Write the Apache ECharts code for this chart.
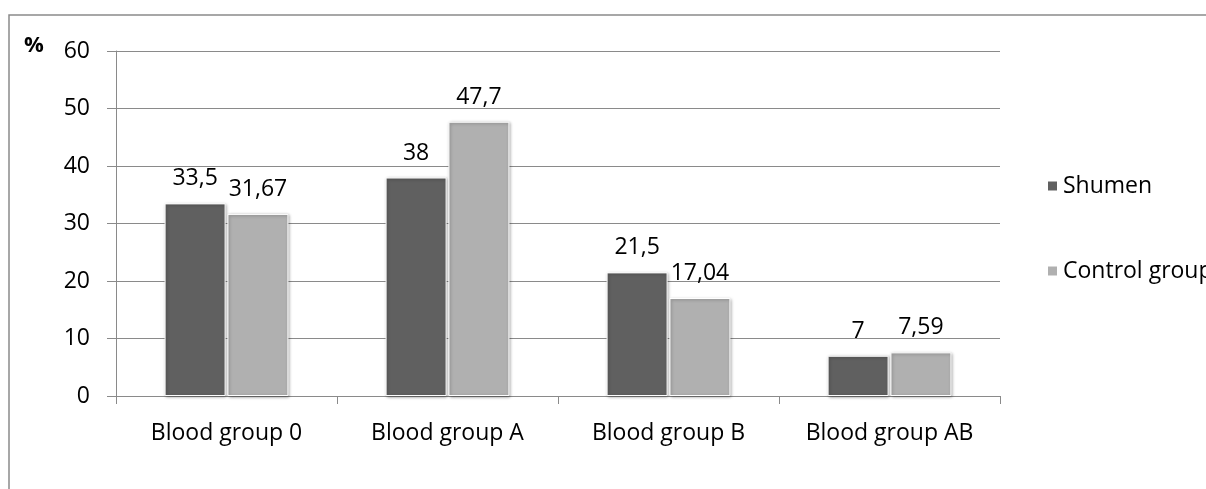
<!DOCTYPE html>
<html><head><meta charset="utf-8">
<script src="https://cdn.jsdelivr.net/npm/echarts@6/dist/echarts.min.js"></script>
<style>html,body{margin:0;padding:0;background:#fff}#c{width:1206px;height:489px}</style>
</head><body><div id="c"></div>
<script>
const categories = ['Blood group 0', 'Blood group A', 'Blood group B', 'Blood group AB'];
const shumen = [33.5, 38, 21.5, 7];
const control = [31.67, 47.7, 17.04, 7.59];
const seriesNames = ['Shumen', 'Control group'];
const yTicks = { min: 0, max: 60, interval: 10 };

const FONT = '"Open Sans", "Noto Sans", sans-serif';
const FS = 23;
const chart = echarts.init(document.getElementById('c'), null, { renderer: 'canvas' });
const fmt = p => String(p.value).replace('.', ',');
const barStyle = (color) => ({
  color: color, borderColor: '#ffffff', borderWidth: 1,
  shadowColor: 'rgba(0,0,0,0.35)', shadowBlur: 3, shadowOffsetX: 1, shadowOffsetY: 1
});
chart.setOption({
  animation: false,
  backgroundColor: '#fff',
  graphic: [
    { type: 'rect', shape: { x: 9, y: 15, width: 1300, height: 600 }, style: { fill: 'none', stroke: '#8a8a8a', lineWidth: 1.5 } },
    { type: 'text', left: 24, top: 35, style: { text: '%', font: 'bold 22px ' + FONT, fill: '#000' } }
  ],
  grid: { left: 116, right: 206, top: 51, bottom: 93 },
  legend: {
    orient: 'vertical', left: 1041, top: 168,
    itemWidth: 11, itemHeight: 11, itemGap: 59,
    icon: 'rect',
    textStyle: { fontFamily: FONT, fontSize: FS, color: '#000', lineHeight: 26 },
    data: seriesNames
  },
  xAxis: {
    type: 'category', data: categories,
    axisLine: { lineStyle: { color: '#8a8a8a', width: 1 } },
    axisTick: { show: true, length: 8, alignWithLabel: false, lineStyle: { color: '#8a8a8a' } },
    axisLabel: { fontFamily: FONT, fontSize: FS, color: '#000', margin: 26 }
  },
  yAxis: {
    type: 'value', min: yTicks.min, max: yTicks.max, interval: yTicks.interval,
    axisLine: { show: true, lineStyle: { color: '#8a8a8a', width: 1 } },
    axisTick: { show: true, length: 9, lineStyle: { color: '#8a8a8a' } },
    splitLine: { lineStyle: { color: '#8a8a8a', width: 1 } },
    axisLabel: { fontFamily: FONT, fontSize: FS, color: '#000', margin: 26 }
  },
  series: [
    { name: seriesNames[0], type: 'bar', data: shumen, barWidth: 61, barGap: '3%',
      itemStyle: barStyle('#606060'),
      label: { show: true, position: 'top', distance: 13, formatter: fmt, fontFamily: FONT, fontSize: FS, color: '#000' } },
    { name: seriesNames[1], type: 'bar', data: control, barWidth: 61, barGap: '3%',
      itemStyle: barStyle('#b0b0b0'),
      label: { show: true, position: 'top', distance: 13, formatter: fmt, fontFamily: FONT, fontSize: FS, color: '#000' } }
  ]
});
</script></body></html>
